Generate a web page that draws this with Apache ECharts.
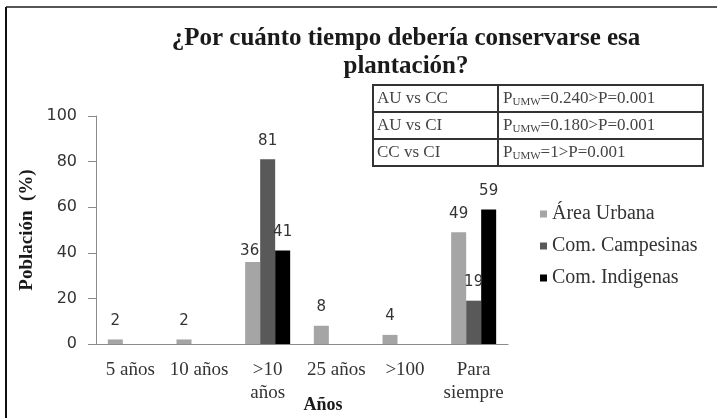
<!DOCTYPE html>
<html>
<head>
<meta charset="utf-8">
<script src="https://cdn.jsdelivr.net/npm/echarts@6/dist/echarts.min.js"></script>
<style>
  html, body { margin: 0; padding: 0; background: #fff; }
  #chart { width: 717px; height: 418px; }
</style>
</head>
<body>
<div id="chart"></div>
<script>
// categorias del eje x
const categorias = ['5 años', '10 años', '>10\naños', '25 años', '>100', 'Para\nsiempre']
// porcentaje de poblacion por grupo
const areaUrbana = [2, 2, 36, 8, 4, 49]
const comCampesinas = [null, null, 81, null, null, 19]
const comIndigenas = [null, null, 41, null, null, 59]
const nombresSeries = ['Área Urbana', 'Com. Campesinas', 'Com. Indigenas']
const yTicks = [0, 20, 40, 60, 80, 100]
// tabla de comparaciones
const comparaciones = ['AU vs CC', 'AU vs CI', 'CC vs CI']
const pUMW = ['0.240', '0.180', '1']
const pRef = '0.001'

const serif = '"Liberation Serif", "Times New Roman", serif'
const sans = '"DejaVu Sans", Verdana, sans-serif'

const chart = echarts.init(document.getElementById('chart'))

const labelBase = {
  show: true,
  position: 'top',
  distance: 11,
  color: '#333',
  fontFamily: sans,
  fontSize: 15
}

function serie(nombre, valores, color, ajustes) {
  return {
    name: nombre,
    type: 'bar',
    barWidth: 15,
    barGap: '0%',
    itemStyle: { color: color },
    label: labelBase,
    data: valores.map((v, i) => {
      if (ajustes && ajustes[i]) {
        return { value: v, label: ajustes[i] }
      }
      return v
    })
  }
}

// filas de la tabla
const tablaX = 373
const tablaY = 85
const filaH = 27
const col1 = 125
const col2 = 205
const tablaHijos = [
  {
    type: 'rect',
    shape: { x: tablaX, y: tablaY, width: col1 + col2, height: filaH * 3 },
    style: { fill: '#fff', stroke: '#333', lineWidth: 2 }
  },
  {
    type: 'line',
    shape: { x1: tablaX + col1, y1: tablaY, x2: tablaX + col1, y2: tablaY + filaH * 3 },
    style: { stroke: '#333', lineWidth: 2 }
  }
]
comparaciones.forEach((c, i) => {
  if (i > 0) {
    tablaHijos.push({
      type: 'line',
      shape: { x1: tablaX, y1: tablaY + filaH * i, x2: tablaX + col1 + col2, y2: tablaY + filaH * i },
      style: { stroke: '#333', lineWidth: 2 }
    })
  }
  tablaHijos.push({
    type: 'text',
    x: tablaX + 4,
    y: tablaY + filaH * i + filaH / 2,
    style: {
      text: c,
      fill: '#444',
      font: '17px ' + serif,
      verticalAlign: 'middle'
    }
  })
  tablaHijos.push({
    type: 'text',
    x: tablaX + col1 + 5,
    y: tablaY + filaH * i + filaH / 2,
    style: {
      text: '{p|P}{s|UMW}{p|=' + pUMW[i] + '>P=' + pRef + '}',
      verticalAlign: 'middle',
      rich: {
        p: { fill: '#444', fontFamily: serif, fontSize: 17 },
        s: { fill: '#444', fontFamily: serif, fontSize: 11, padding: [8, 0, 0, 0] }
      }
    }
  })
})

chart.setOption({
  backgroundColor: '#fff',
  animation: false,
  title: {
    text: '¿Por cuánto tiempo debería conservarse esa\nplantación?',
    left: 401,
    top: 20,
    textAlign: 'center',
    textStyle: {
      fontFamily: serif,
      fontWeight: 'bold',
      fontSize: 25,
      lineHeight: 28,
      color: '#1a1a1a'
    }
  },
  legend: {
    orient: 'vertical',
    left: 535,
    top: 199,
    icon: 'rect',
    itemWidth: 7,
    itemHeight: 7,
    itemGap: 12,
    textStyle: {
      fontFamily: serif,
      fontSize: 20,
      color: '#333'
    },
    data: nombresSeries
  },
  grid: {
    left: 96,
    right: 209,
    top: 116,
    bottom: 74,
    outerBoundsMode: 'none'
  },
  xAxis: {
    type: 'category',
    data: categorias,
    name: 'Años',
    nameLocation: 'middle',
    nameGap: 52,
    nameMoveOverlap: false,
    nameTextStyle: {
      fontFamily: serif,
      fontWeight: 'bold',
      fontSize: 18,
      color: '#1a1a1a',
      padding: [0, 0, 0, 42]
    },
    axisLine: { lineStyle: { color: '#8a8a8a', width: 1 } },
    axisTick: { show: false },
    axisLabel: {
      interval: 0,
      margin: 15,
      fontFamily: serif,
      fontSize: 19,
      lineHeight: 23,
      color: '#333'
    }
  },
  yAxis: {
    type: 'value',
    min: yTicks[0],
    max: yTicks[yTicks.length - 1],
    interval: 20,
    name: 'Población  (%)',
    nameLocation: 'middle',
    nameGap: 59,
    nameMoveOverlap: false,
    nameTextStyle: {
      fontFamily: serif,
      fontWeight: 'bold',
      fontSize: 19,
      color: '#1a1a1a'
    },
    splitLine: { show: false },
    axisLine: { show: true, lineStyle: { color: '#8a8a8a', width: 1 } },
    axisTick: { show: true, length: 8, lineStyle: { color: '#8a8a8a' } },
    axisLabel: {
      margin: 19,
      fontFamily: sans,
      fontSize: 16,
      color: '#333'
    }
  },
  graphic: [
    // marco superior e izquierdo de la imagen
    {
      type: 'line',
      shape: { x1: 6, y1: 7, x2: 717, y2: 7 },
      style: { stroke: '#555', lineWidth: 2 }
    },
    {
      type: 'line',
      shape: { x1: 6, y1: 7, x2: 6, y2: 418 },
      style: { stroke: '#111', lineWidth: 2 }
    },
    { type: 'group', children: tablaHijos }
  ],
  series: [
    serie(nombresSeries[0], areaUrbana, '#a5a5a5', { 2: { distance: 3, offset: [-3, 0] } }),
    serie(nombresSeries[1], comCampesinas, '#595959'),
    serie(nombresSeries[2], comIndigenas, '#000000')
  ]
})
</script>
</body>
</html>
